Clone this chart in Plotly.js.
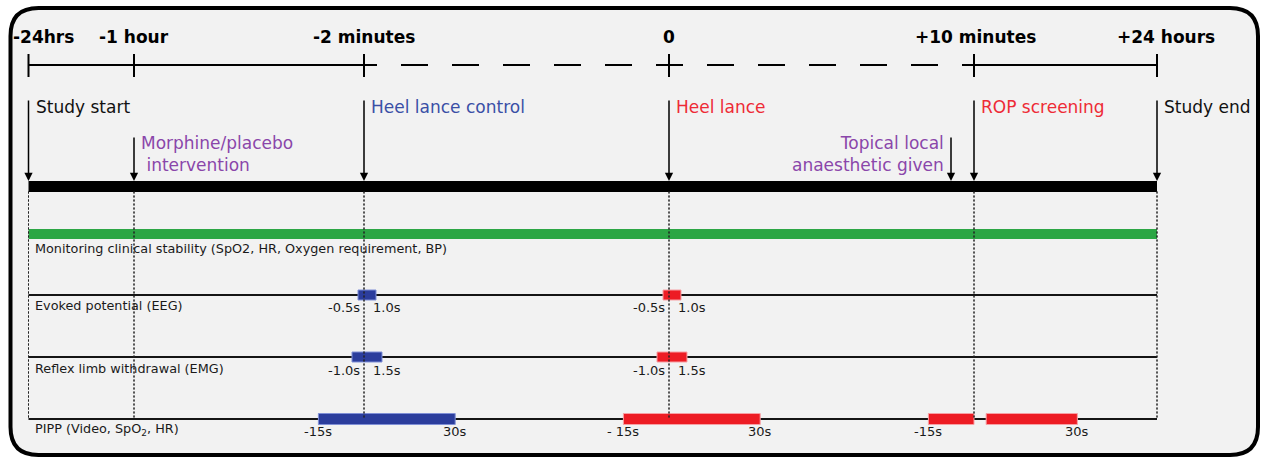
<!DOCTYPE html>
<html>
<head>
<meta charset="utf-8">
<script src="https://cdn.plot.ly/plotly-3.0.1.min.js"></script>
<style>html,body{margin:0;padding:0;background:#fff;}#chart{width:1262px;height:459px;}</style>
</head>
<body>
<div id="chart"></div>
<script>
// ---------------- DATA ----------------
// Milestones on the (not-to-scale) schematic timeline
const milestoneLabels = ['-24hrs', '-1 hour', '-2 minutes', '0', '+10 minutes', '+24 hours'];
const milestoneTime   = [28.5, 134, 364, 669, 974, 1157];   // schematic timeline position

// Events pointed to by arrows
const eventLabels = ['Study start', 'Morphine/placebo<br> intervention', 'Heel lance control', 'Heel lance',
                     'Topical local<br>anaesthetic given', 'ROP screening', 'Study end'];
const eventTime   = [28.5, 134, 364, 669, 951, 974, 1157];
const eventTier   = [0, 1, 0, 0, 1, 0, 0];                    // 0 = upper label row, 1 = lower label row
const eventKind   = ['neutral', 'drug', 'control', 'noxious', 'drug', 'noxious', 'neutral'];

// Measurement rows
const rowLabels = ['Monitoring clinical stability (SpO2, HR, Oxygen requirement, BP)',
                   'Evoked potential (EEG)',
                   'Reflex limb withdrawal (EMG)',
                   'PIPP (Video, SpO<sub>2</sub>, HR)'];

// Recording windows (seconds relative to stimulus), per stimulus
const stimulusNames = ['Heel lance control', 'Heel lance', 'ROP screening'];
const stimulusTime  = [364, 669, 974];
const eegStart = [-0.5, -0.5, null];
const eegEnd   = [1.0, 1.0, null];
const emgStart = [-1.0, -1.0, null];
const emgEnd   = [1.5, 1.5, null];
const pippStart = [[-15], [-15], [-15, 4]];
const pippEnd   = [[30], [30], [0, 34]];
const eegStartLabels = ['-0.5s', '-0.5s'];
const eegEndLabels   = ['1.0s', '1.0s'];
const emgStartLabels = ['-1.0s', '-1.0s'];
const emgEndLabels   = ['1.5s', '1.5s'];
const pippStartLabels = ['-15s', '- 15s', '-15s'];
const pippEndLabels   = ['30s', '30s', '30s'];

// ---------------- STYLE / LAYOUT ----------------
const FONT = 'DejaVu Sans, Verdana, sans-serif';
const kindColor = {neutral: '#111111', drug: '#8a46aa', control: '#3a4fa6', noxious: '#ee2b36'};
const barColor  = {control: '#2b3d9c', noxious: '#ed1c24'};
const barEdge   = {control: '#7f8fd6', noxious: '#f7a0a4'};
const stimKind  = ['control', 'noxious', 'noxious'];

const Y = {label: 37, axis: 65, tickTop: 54, tickBot: 77, evTop: [99, 136], evText: [107, 154],
           arrowHead: 181, mainBar: 186.5, green: 234, greenLbl: 248,
           rows: [null, 295, 357, 419], rowLbl: [248, 305, 368, 429], barLbl: [null, 307, 370, 431]};
const pxPerSec = {eeg: 12, emg: 12, pipp: 3.04};

const traces = [];
const annotations = [];
const start = milestoneTime[0], end = milestoneTime[milestoneTime.length - 1];
const iCtrl = milestoneTime.indexOf(364), iRop = milestoneTime.indexOf(974);

// Top timeline: solid, dashed, solid
traces.push({x: [start, milestoneTime[iCtrl]], y: [Y.axis, Y.axis], mode: 'lines',
             line: {color: '#000', width: 2}});
const dashArr = [13, 24];
for (let k = 0; k < 11; k++) dashArr.push(27, 24);
dashArr.push(12, 100);
traces.push({x: [milestoneTime[iCtrl], milestoneTime[iRop]], y: [Y.axis, Y.axis], mode: 'lines',
             line: {color: '#000', width: 2, dash: dashArr.map(v => v + 'px').join(',')}});
traces.push({x: [milestoneTime[iRop], end], y: [Y.axis, Y.axis], mode: 'lines',
             line: {color: '#000', width: 2}});
// Ticks
const tx = [], ty = [];
milestoneTime.forEach(p => { tx.push(p, p, null); ty.push(Y.tickTop, Y.tickBot, null); });
traces.push({x: tx, y: ty, mode: 'lines', line: {color: '#000', width: 2}});
// Milestone labels
const labelShift = [15, 0, 0, 0, 1, 9];
milestoneLabels.forEach((t, i) => annotations.push({
  x: milestoneTime[i], y: Y.label, xref: 'x', yref: 'y', text: '<b>' + t + '</b>', showarrow: false,
  xshift: labelShift[i], font: {family: FONT, size: 17, color: '#000'}, xanchor: 'center', yanchor: 'middle'}));

// Dotted guide lines
const dx = [], dy = [];
milestoneTime.forEach(p => { dx.push(p, p, null); dy.push(Y.mainBar + 5, Y.rows[3], null); });
traces.push({x: dx, y: dy, mode: 'lines', line: {color: '#222', width: 1, dash: '2px,2px'}});

// Main black bar and green monitoring bar
traces.push({type: 'bar', orientation: 'h', y: [Y.mainBar], base: [start], x: [end - start], width: 11,
             marker: {color: '#000', line: {width: 0}}});
traces.push({type: 'bar', orientation: 'h', y: [Y.green], base: [start], x: [end - start], width: 10,
             marker: {color: '#2ca645', line: {width: 0}}});

// Event arrows and labels
eventLabels.forEach((t, i) => {
  const p = eventTime[i], tier = eventTier[i];
  annotations.push({x: p, y: Y.arrowHead, ax: p, ay: Y.evTop[tier], xref: 'x', yref: 'y', axref: 'x', ayref: 'y',
    text: '', showarrow: true, arrowhead: 2, arrowsize: 1.1, arrowwidth: 1.5, arrowcolor: '#000', standoff: 0});
  const right = (t.indexOf('Topical') === 0);
  annotations.push({x: right ? p - 5 : p + 5, y: Y.evText[tier], xref: 'x', yref: 'y', text: t, showarrow: false,
    xanchor: right ? 'right' : 'left', yanchor: 'middle', align: right ? 'right' : 'left',
    font: {family: FONT, size: 17, color: kindColor[eventKind[i]]}});
});

// Row baselines (as thin bars so recording windows sit on top)
const rowY = [1, 2, 3].map(r => Y.rows[r]);
traces.push({type: 'bar', orientation: 'h', y: rowY, base: rowY.map(() => start), x: rowY.map(() => end - start),
             width: 2.2, marker: {color: '#151515', line: {width: 0}}});

// Row labels
rowLabels.forEach((t, r) => annotations.push({x: 33, y: Y.rowLbl[r], xref: 'x', yref: 'y', text: t, showarrow: false,
  xanchor: 'left', yanchor: 'middle', font: {family: FONT, size: 12.8, color: '#1a1a1a'}}));

// Recording windows as bars
function addBars(row, starts, ends, scale, height) {
  ['control', 'noxious'].forEach(kind => {
    const ys = [], bs = [], ls = [];
    stimulusNames.forEach((n, s) => {
      if (stimKind[s] !== kind) return;
      const st = Array.isArray(starts[s]) ? starts[s] : [starts[s]];
      const en = Array.isArray(ends[s]) ? ends[s] : [ends[s]];
      st.forEach((a, k) => {
        if (a === null || a === undefined) return;
        ys.push(Y.rows[row]); bs.push(stimulusTime[s] + a * scale); ls.push((en[k] - a) * scale);
      });
    });
    if (ys.length) traces.push({type: 'bar', orientation: 'h', y: ys, base: bs, x: ls, width: height,
      marker: {color: barColor[kind], line: {color: barEdge[kind], width: 1}}});
  });
}
addBars(1, eegStart, eegEnd, pxPerSec.eeg, 10);
addBars(2, emgStart, emgEnd, pxPerSec.emg, 10);
addBars(3, pippStart, pippEnd, pxPerSec.pipp, 11);

// Dotted guide lines drawn again above the windows
traces.push({x: dx, y: dy, mode: 'lines', line: {color: '#222', width: 1, dash: '2px,2px'}});

// Window labels
function lab(x, y, t, anchor) {
  annotations.push({x: x, y: y, xref: 'x', yref: 'y', text: t, showarrow: false, xanchor: anchor, yanchor: 'middle',
    font: {family: FONT, size: 13, color: '#1a1a1a'}});
}
[[eegStartLabels, eegEndLabels, 1], [emgStartLabels, emgEndLabels, 2]].forEach(([sl, el, row]) => {
  sl.forEach((t, s) => {
    lab(stimulusTime[s] - 2, Y.barLbl[row], t, 'right');
    lab(stimulusTime[s] + 7, Y.barLbl[row], el[s], 'left');
  });
});
pippStartLabels.forEach((t, s) => {
  const st = pippStart[s], en = pippEnd[s];
  lab(stimulusTime[s] + st[0] * pxPerSec.pipp, Y.barLbl[3], t, 'center');
  lab(stimulusTime[s] + en[en.length - 1] * pxPerSec.pipp, Y.barLbl[3], pippEndLabels[s], 'center');
});

// Rounded frame
const fx0 = 10.5, fx1 = 1258, fy0 = 8, fy1 = 455, r = 28;
const framePath = `M${fx0 + r},${fy0} L${fx1 - r},${fy0} Q${fx1},${fy0} ${fx1},${fy0 + r} L${fx1},${fy1 - r} ` +
  `Q${fx1},${fy1} ${fx1 - r},${fy1} L${fx0 + r},${fy1} Q${fx0},${fy1} ${fx0},${fy1 - r} L${fx0},${fy0 + r} ` +
  `Q${fx0},${fy0} ${fx0 + r},${fy0} Z`;

const layout = {
  width: 1262, height: 459, margin: {l: 0, r: 0, t: 0, b: 0},
  paper_bgcolor: '#ffffff', plot_bgcolor: 'rgba(0,0,0,0)',
  showlegend: false, barmode: 'overlay', hovermode: false,
  xaxis: {range: [0, 1262], visible: false, fixedrange: true},
  yaxis: {range: [459, 0], visible: false, fixedrange: true},
  shapes: [{type: 'path', xref: 'x', yref: 'y', path: framePath, fillcolor: '#f2f2f2',
            line: {color: '#000', width: 4}, layer: 'below'}],
  annotations: annotations
};
traces.forEach(t => { if (!t.type) t.type = 'scatter'; t.hoverinfo = 'skip'; t.showlegend = false; });
Plotly.newPlot('chart', traces, layout, {displayModeBar: false, staticPlot: true});
</script>
</body>
</html>
